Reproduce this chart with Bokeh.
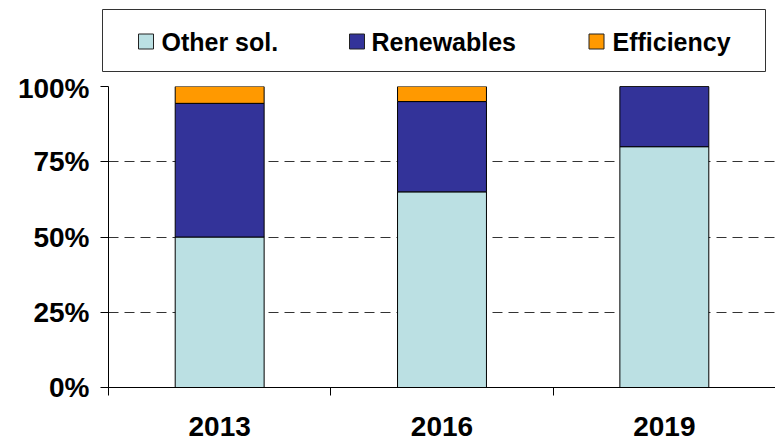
from bokeh.plotting import figure
from bokeh.models import ColumnDataSource, Range1d, FixedTicker, PrintfTickFormatter
from bokeh.layouts import column
from bokeh.embed import file_html
from bokeh.resources import INLINE
from bokeh.core.properties import value

# ---- data ----
years = ["2013", "2016", "2019"]
series_names = ["Other sol.", "Renewables", "Efficiency"]
other_sol = [50.0, 65.0, 80.0]
renewables = [44.4, 30.0, 20.0]
efficiency = [5.6, 5.0, 0.0]
y_ticks = [0, 25, 50, 75, 100]
series_colors = ["#BBE0E3", "#333399", "#FF9900"]

FONT = "Liberation Sans"
W = 775

# ---- legend strip ----
LEG_H = 72
leg = figure(width=W, height=LEG_H, x_range=Range1d(0, W), y_range=Range1d(0, LEG_H),
             toolbar_location=None, output_backend="svg",
             x_axis_location=None, y_axis_location=None,
             min_border=0, outline_line_color=None)
leg.frame_align = False
leg.grid.visible = False
leg.quad(left=[102], right=[765], bottom=[1], top=[63],
         fill_color="white", line_color="#333333", line_width=1)
swatch_x = [145.5, 356.5, 596.0]
text_x = [161, 371, 612]
leg_src = ColumnDataSource(dict(sx=swatch_x, tx=text_x, y=[31] * 3,
                                name=series_names, color=series_colors))
leg.rect(x="sx", y="y", width=15, height=15, fill_color="color",
         line_color="#222222", line_width=1, source=leg_src)
leg.text(x="tx", y="y", text="name", source=leg_src, text_baseline="middle",
         text_align="left", text_font=value(FONT), text_font_style="bold",
         text_font_size="25px", text_color="black")

# ---- main chart ----
x_pos = [i + 0.5 for i in range(len(years))]
src = ColumnDataSource(dict(x=x_pos, other=other_sol, renew=renewables, eff=efficiency))

p = figure(width=W, height=440 - LEG_H, x_range=Range1d(0, len(years)), y_range=Range1d(0, 100),
           toolbar_location=None, output_backend="svg",
           min_border_left=108, min_border_right=0, min_border_top=14, min_border_bottom=53,
           outline_line_color=None)
p.frame_align = False
p.vbar_stack(["other", "renew", "eff"], x="x", width=0.4, source=src,
             fill_color=series_colors, line_color="black", line_width=1)

p.xgrid.visible = False
p.ygrid.ticker = FixedTicker(ticks=y_ticks[1:], minor_ticks=[])
p.ygrid.grid_line_color = "#333333"
p.ygrid.grid_line_dash = "10 6"
p.ygrid.grid_line_width = 1

xa = p.xaxis[0]
xa.ticker = FixedTicker(ticks=x_pos, minor_ticks=list(range(len(years) + 1)))
xa.major_label_overrides = {x: y for x, y in zip(x_pos, years)}
xa.major_tick_out = 0
xa.major_tick_in = 0
xa.minor_tick_out = 8
xa.minor_tick_in = 0
xa.minor_tick_line_color = "black"
xa.axis_line_color = "black"
xa.major_label_standoff = 21
xa.major_label_text_font = FONT
xa.major_label_text_font_style = "bold"
xa.major_label_text_font_size = "28px"
xa.major_label_text_color = "black"

ya = p.yaxis[0]
ya.ticker = FixedTicker(ticks=y_ticks, minor_ticks=[])
ya.formatter = PrintfTickFormatter(format="%d%%")
ya.major_tick_out = 8
ya.major_tick_in = 0
ya.minor_tick_out = 0
ya.minor_tick_in = 0
ya.major_tick_line_color = "black"
ya.axis_line_color = "black"
ya.major_label_standoff = 11
ya.major_label_text_font = FONT
ya.major_label_text_font_style = "bold"
ya.major_label_text_font_size = "28px"
ya.major_label_text_color = "black"

layout = column(leg, p, spacing=0)
open("out.html", "w").write(file_html(layout, INLINE))
